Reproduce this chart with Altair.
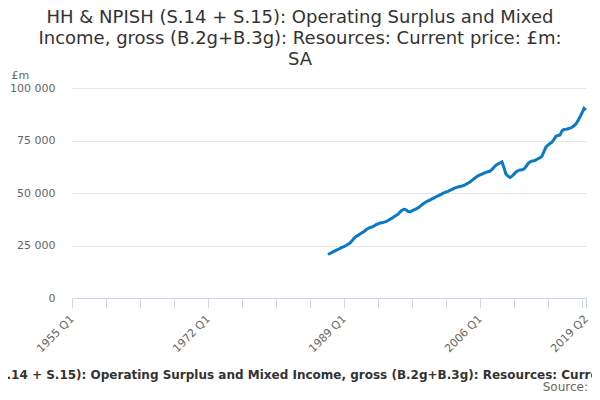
import altair as alt
import pandas as pd

FONT = "DejaVu Sans"

title_lines = [
    "HH & NPISH (S.14 + S.15): Operating Surplus and Mixed",
    "Income, gross (B.2g+B.3g): Resources: Current price: £m:",
    "SA",
]
full_title = ("HH & NPISH (S.14 + S.15): Operating Surplus and Mixed Income, gross "
              "(B.2g+B.3g): Resources: Current price: £m: SA")
source_text = "Source:"
y_unit = "£m"

# all quarter categories on the axis
quarters = [f"{y} Q{q}" for y in range(1955, 2020) for q in range(1, 5)][:258]
first_quarter = "1987 Q1"

values = [
    20700, 21200, 21700, 22200,  # 1987
    22700, 23100, 23600, 24100,  # 1988
    24500, 25000, 25600, 26200,  # 1989
    27200, 28400, 29300, 29800,  # 1990
    30500, 31100, 31700, 32500,  # 1991
    33100, 33600, 33800, 34300,  # 1992
    34900, 35300, 35700, 35800,  # 1993
    36100, 36400, 36900, 37500,  # 1994
    38000, 38700, 39300, 39800,  # 1995
    40900, 41800, 42200, 42000,  # 1996
    41200, 41000, 41500, 42000,  # 1997
    42400, 42900, 43600, 44400,  # 1998
    45100, 45700, 46200, 46600,  # 1999
    47200, 47700, 48200, 48600,  # 2000
    49100, 49600, 50100, 50500,  # 2001
    50800, 51300, 51700, 52200,  # 2002
    52600, 52900, 53100, 53300,  # 2003
    53600, 54200, 54700, 55200,  # 2004
    56000, 56800, 57500, 58200,  # 2005
    58600, 59000, 59500, 59800,  # 2006
    60100, 60400, 61200, 62300,  # 2007
    63200, 63800, 64300, 64800,  # 2008
    62000, 59000, 58000, 57400,  # 2009
    58000, 59000, 60000, 60600,  # 2010
    61000, 61100, 61400, 62600,  # 2011
    64000, 64800, 65200, 65300,  # 2012
    65800, 66300, 66800, 67600,  # 2013
    69800, 72000, 72800, 73600,  # 2014
    74200, 75500, 77000, 77400,  # 2015
    77600, 79600, 80200, 80300,  # 2016
    80600, 80900, 81300, 82000,  # 2017
    83000, 84500, 86200, 88200,  # 2018
    90300, 89600,                # 2019
]

start = quarters.index(first_quarter)
df = pd.DataFrame({"quarter": quarters[start:start + len(values)], "value": values})

tick_quarters = quarters[0:256:17] + [quarters[-1]]
label_quarters = ["1955 Q1", "1972 Q1", "1989 Q1", "2006 Q1", "2019 Q2"]
y_ticks = [0, 25000, 50000, 75000, 100000]

label_list = "[" + ",".join(f"'{q}'" for q in label_quarters) + "]"

line = alt.Chart(df).mark_line(color="#0a7ac4", strokeWidth=3).encode(
    x=alt.X(
        "quarter:O",
        sort=None,
        scale=alt.Scale(type="point", domain=quarters, padding=0),
        axis=alt.Axis(
            values=tick_quarters,
            labelExpr=f"indexof({label_list}, datum.label) >= 0 ? datum.label : ''",
            labelAngle=-45,
            labelAlign="right",
            labelBaseline="middle",
            labelOverlap=False,
            labelFlush=False,
            labelPadding=9,
            labelFont=FONT,
            labelFontSize=11,
            labelColor="#666666",
            tickSize=10,
            tickColor="#ccd6eb",
            domainColor="#ccd6eb",
            grid=False,
            title=full_title,
            titleFont=FONT,
            titleFontSize=12,
            titleFontWeight="bold",
            titleColor="#333333",
            titleX=235,
            titleY=80,
            titleAlign="center",
            titleBaseline="alphabetic",
            titleLimit=3000,
        ),
    ),
    y=alt.Y(
        "value:Q",
        scale=alt.Scale(domain=[0, 100000], nice=False),
        axis=alt.Axis(
            values=y_ticks,
            labelExpr="replace(format(datum.value, ','), ',', ' ')",
            labelFont=FONT,
            labelFontSize=11,
            labelColor="#666666",
            labelPadding=17,
            ticks=False,
            domain=False,
            gridColor="#e6e6e6",
            title=y_unit,
            titleFont=FONT,
            titleFontSize=11,
            titleFontWeight="normal",
            titleColor="#666666",
            titleAngle=0,
            titleAlign="left",
            titleBaseline="alphabetic",
            titleX=-61,
            titleY=-10,
        ),
    ),
)

source = alt.Chart(pd.DataFrame({"t": [source_text]})).mark_text(
    align="right", baseline="alphabetic", font=FONT, fontSize=12, color="#666666"
).encode(x=alt.value(516), y=alt.value(303), text="t:N")

chart = alt.layer(line, source).properties(
    width=514,
    height=210,
    padding={"left": 64, "top": 80, "right": 6, "bottom": 94},
    autosize=alt.AutoSizeParams(type="none"),
    title=alt.TitleParams(
        text=title_lines,
        font=FONT,
        fontSize=18,
        fontWeight="normal",
        color="#333333",
        anchor="middle",
        dx=-29,
        dy=18,
        offset=18,
        lineHeight=21,
    ),
).configure_view(stroke=None)

chart.save("out.html", embed_options={"renderer": "svg", "actions": False})
